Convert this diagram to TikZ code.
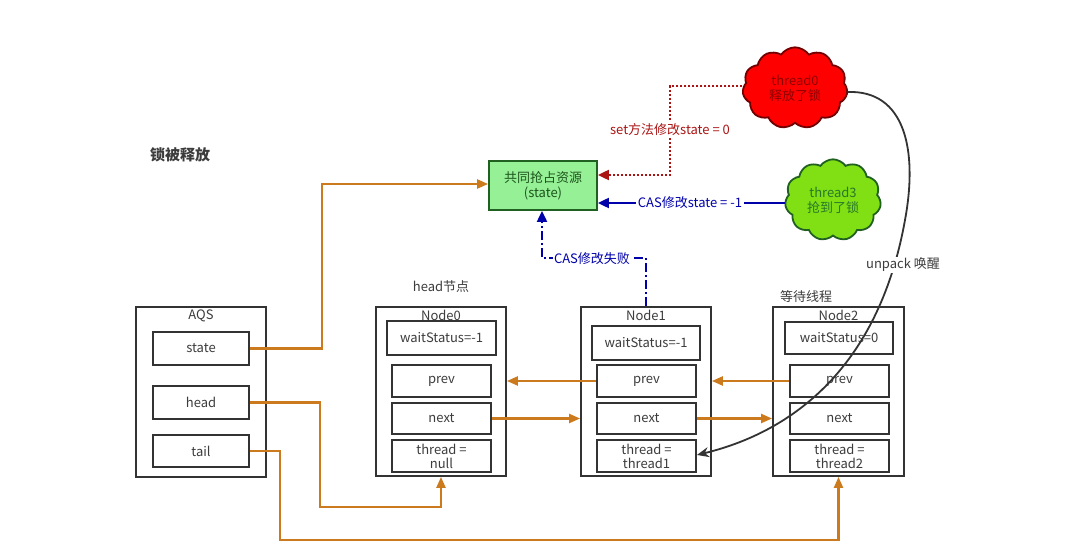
\documentclass[tikz,border=0pt]{standalone}
\usepackage{fontspec}
\setmainfont{Noto Sans CJK SC}
\usetikzlibrary{arrows.meta,shapes.symbols}
\definecolor{ora}{RGB}{204,122,30}
\definecolor{txt}{RGB}{60,60,60}
\definecolor{dblue}{RGB}{0,0,170}
\definecolor{dred}{RGB}{170,20,20}
\definecolor{lgreen}{RGB}{150,240,150}
\definecolor{lime}{RGB}{128,224,20}
\definecolor{cgreen}{RGB}{40,120,40}
\begin{document}
\begin{tikzpicture}[x=1pt,y=-1pt,
  every node/.style={font=\fontsize{13}{15}\selectfont, text=txt},
  outer/.style={draw=black!80, line width=1.8pt, fill=white, inner sep=0pt},
  field/.style={draw=black!80, line width=1.8pt, fill=white, inner sep=0pt, align=center, font=\fontsize{13}{14}\selectfont},
  oline/.style={draw=ora, line width=2.2pt},
  oarrow/.style={oline, -{Triangle[length=11pt,width=9pt]}},
  lbl/.style={fill=white, inner sep=1.5pt}
]
\useasboundingbox (0,0) rectangle (1080,545);
\fill[white] (0,0) rectangle (1080,545);

% title
\node (title) at (180,155) {\fontsize{15}{17}\selectfont\bfseries 锁被释放};

% state resource
\node[draw=cgreen!80!black, line width=1.8pt, fill=lgreen, minimum width=108pt, minimum height=49pt, align=center, text=cgreen!70!black] (res) at (543,185.5) {共同抢占资源\\(state)};

% clouds
\node[cloud, cloud puffs=11, cloud puff arc=110, draw=red!45!black, line width=1.8pt, fill=red, minimum width=105pt, minimum height=76pt, align=center, text=red!55!black, inner sep=0pt] (t0) at (795,88) {thread0\\释放了锁};
\node[cloud, cloud puffs=11, cloud puff arc=110, draw=cgreen!80!black, line width=1.8pt, fill=lime, minimum width=96pt, minimum height=70pt, align=center, text=cgreen, inner sep=0pt] (t3) at (833,200) {thread3\\抢到了锁};

% AQS
\node[outer, minimum width=130pt, minimum height=170pt] (aqs) at (201,392) {};
\node (aqsl) at (201,316) {AQS};
\node[field, minimum width=96pt, minimum height=33pt] (astate) at (201,348.5) {state};
\node[field, minimum width=96pt, minimum height=33pt] (ahead) at (201,402.5) {head};
\node[field, minimum width=96pt, minimum height=32pt] (atail) at (201,451) {tail};

% Node0
\node (hl) at (441,287) {head节点};
\node[outer, minimum width=130pt, minimum height=169pt] (n0) at (441,391.5) {};
\node (n0l) at (441,315) {Node0};
\node[field, minimum width=109pt, minimum height=34pt] (n0w) at (441.5,338) {waitStatus=-1};
\node[field, minimum width=99pt, minimum height=32pt] (n0p) at (441.5,381) {prev};
\node[field, minimum width=99pt, minimum height=31pt] (n0n) at (441.5,418.5) {next};
\node[field, minimum width=99pt, minimum height=32pt] (n0t) at (441.5,456) {thread =\\null};

% Node1
\node[outer, minimum width=130pt, minimum height=169pt] (n1) at (646,391.5) {};
\node (n1l) at (646,315) {Node1};
\node[field, minimum width=108pt, minimum height=34pt] (n1w) at (646,343) {waitStatus=-1};
\node[field, minimum width=99pt, minimum height=32pt] (n1p) at (646.5,381) {prev};
\node[field, minimum width=99pt, minimum height=31pt] (n1n) at (646.5,418.5) {next};
\node[field, minimum width=99pt, minimum height=32pt] (n1t) at (646.5,456) {thread =\\thread1};

% Node2
\node (wl) at (806,297) {等待线程};
\node[outer, minimum width=131pt, minimum height=169pt] (n2) at (838.5,391.5) {};
\node (n2l) at (838.5,315) {Node2};
\node[field, minimum width=108pt, minimum height=32pt] (n2w) at (839,338) {waitStatus=0};
\node[field, minimum width=99pt, minimum height=32pt] (n2p) at (839.5,381) {prev};
\node[field, minimum width=99pt, minimum height=31pt] (n2n) at (839.5,418.5) {next};
\node[field, minimum width=99pt, minimum height=32pt] (n2t) at (839.5,456) {thread =\\thread2};

% orange links
\draw[oarrow] (astate.east) -- (322,348.5) -- (322,184) -- (res.west |- 0,184);
\draw[oarrow] (ahead.east) -- (320,402.5) -- (320,507) -- (441,507) -- (n0.south);
\draw[oarrow] (atail.east) -- (280,451) -- (280,540) -- (838.5,540) -- (n2.south);
\draw[oarrow] (n1p.west) -- (n0.east |- n1p.west);
\draw[oarrow] (n2p.west) -- (n1.east |- n2p.west);
\draw[oarrow] (n0n.east) -- (n1.west |- n0n.east);
\draw[oarrow] (n1n.east) -- (n2.west |- n1n.east);

% red dotted
\draw[dred, line width=2pt, dotted, -{Triangle[length=11pt,width=10pt]}] (t0.west |- 0,86) -- (670,86) -- (670,175) -- (res.east |- 0,175);
\node[lbl, text=dred] (setlbl) at (670,130) {set方法修改state = 0};

% blue solid
\draw[dblue, line width=2pt, -{Triangle[length=11pt,width=10pt]}] (t3.west |- 0,203) -- (res.east |- 0,203);
\node[lbl, text=dblue] (casl) at (690,203) {CAS修改state = -1};

% blue dash-dot
\draw[dblue, line width=2pt, dash pattern=on 9pt off 3pt on 2pt off 3pt, -{Triangle[length=11pt,width=10pt]}] (n1.north) -- (646,258) -- (542,258) -- (res.south -| 542,0);
\node[lbl, text=dblue] (fail) at (592,259) {CAS修改失败};

% unpark curve
\draw[black!80, line width=1.8pt, -{Stealth[length=12pt,width=10pt]}] (t0.east |- 0,92) .. controls (905,90) and (918,150) .. (905,220) .. controls (880,360) and (800,430) .. (n1t.east |- 0,455);
\node[lbl] (unp) at (903,265) {unpack 唤醒};
\end{tikzpicture}
\end{document}
